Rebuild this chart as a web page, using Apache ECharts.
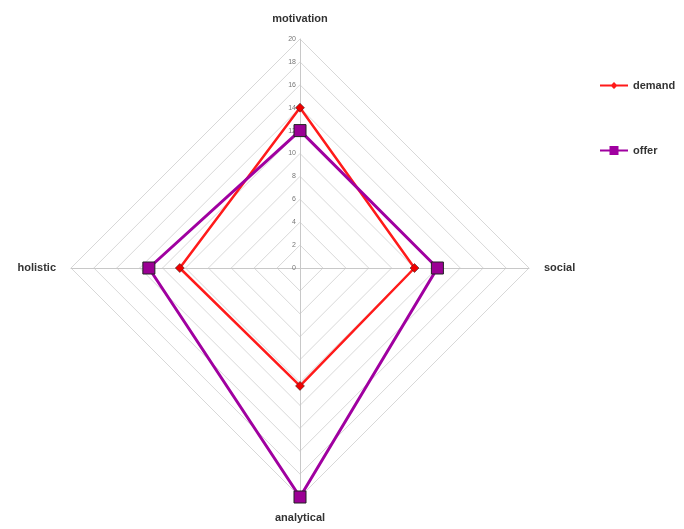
<!DOCTYPE html>
<html><head><meta charset="utf-8">
<script src="https://cdn.jsdelivr.net/npm/echarts@6/dist/echarts.min.js"></script>
<style>html,body{margin:0;padding:0;background:#fff}#c{width:684px;height:529px}</style>
</head><body><div id="c"></div>
<script>
// indicators in counterclockwise order starting at top
const categories = ['motivation', 'holistic', 'analytical', 'social'];
const demand = [14, 10.5, 10.3, 10];
const offer = [12, 13.2, 20, 12];
const axisMax = 20;

const chart = echarts.init(document.getElementById('c'));
chart.setOption({
  animation: false,
  legend: {
    orient: 'vertical', left: 595, top: 75, itemGap: 54,
    itemWidth: 28, itemHeight: 10,
    textStyle: {fontFamily: 'Liberation Sans', fontSize: 11, color: '#333', fontWeight: 'bold'},
    data: [
      {name: 'demand', icon: 'path://M0,4.1H28V5.9H0Z M10.5,5L14,1.5L17.5,5L14,8.5Z',
       itemStyle: {color: '#ff1a1a', borderWidth: 0}},
      {name: 'offer', icon: 'path://M0,4H28V6H0Z M9.5,0.5H18.5V9.5H9.5Z',
       itemStyle: {color: '#a000a0', borderWidth: 0}}
    ]
  },
  radar: {
    center: [300, 268], radius: 229, startAngle: 90,
    shape: 'polygon', splitNumber: 10,
    indicator: categories.map((n, i) => {
      const o = {name: n, max: axisMax, min: 0};
      if (i === 0) o.axisLabel = {show: true, fontSize: 7, color: '#777', fontFamily: 'Liberation Sans', margin: 4};
      return o;
    }),
    axisName: {color: '#333', fontFamily: 'Liberation Sans', fontSize: 11, fontWeight: 'bold'},
    nameGap: 15,
    axisLabel: {show: false},
    axisLine: {lineStyle: {color: '#c8c8c8', width: 1}},
    splitLine: {lineStyle: {color: '#d8d8d8', width: 1}},
    splitArea: {show: false}
  },
  series: [{
    type: 'radar',
    data: [
      {name: 'demand', value: demand, symbol: 'diamond', symbolSize: 9,
       lineStyle: {color: '#ff1a1a', width: 2.5}, itemStyle: {color: '#ee0000', borderColor: '#222', borderWidth: 0.5}},
      {name: 'offer', value: offer, symbol: 'rect', symbolSize: 12,
       lineStyle: {color: '#a000a0', width: 3}, itemStyle: {color: '#9b0094', borderColor: '#222', borderWidth: 1}}
    ]
  }]
});
</script></body></html>
